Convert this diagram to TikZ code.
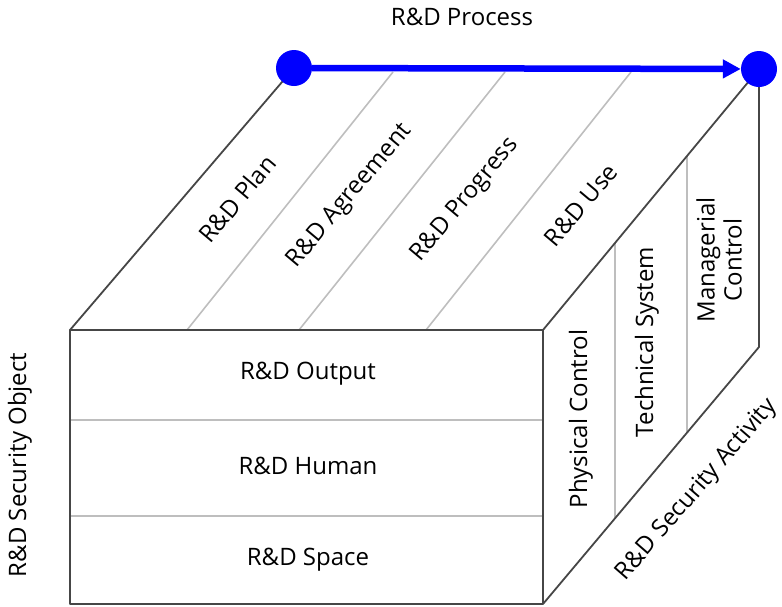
\documentclass[tikz,border=0pt]{standalone}
\usepackage{fontspec}
\setmainfont{Open Sans}
\usetikzlibrary{arrows.meta,calc}
\definecolor{edgegray}{RGB}{70,70,70}
\definecolor{linegray}{RGB}{190,190,190}
\definecolor{processblue}{RGB}{0,0,255}
\tikzset{
    % Cube outline
    edge/.style={
        draw=edgegray,
        line width=1.8pt,
        line join=round
    },
    % Dividers between the cells
    divider/.style={
        draw=linegray,
        line width=1.6pt
    },
    % Labels on the faces
    facelabel/.style={
        font=\fontsize{24}{27}\selectfont,
        align=center,
        inner sep=0pt
    },
    % Process axis
    dot/.style={
        circle,
        fill=processblue,
        minimum size=36pt,
        inner sep=0pt
    },
    processarrow/.style={
        -{Triangle[length=18pt,width=18pt]},
        line width=6.5pt,
        draw=processblue
    }
}

\begin{document}
\begin{tikzpicture}[x=1pt,y=1pt]

    \useasboundingbox (0,0) rectangle (782,-606);

    % Corners of the cube
    \coordinate (ftl) at (70,-330);
    \coordinate (ftr) at (543,-330);
    \coordinate (fbl) at (70,-604);
    \coordinate (fbr) at (543,-604);
    \coordinate (btl) at (294,-68);
    \coordinate (btr) at (759,-69);
    \coordinate (bbr) at (759,-347);

    % Front face: security objects
    \draw[divider] (70,-420) -- (543,-420);
    \draw[divider] (70,-516) -- (543,-516);

    % Top face: process stages
    \draw[divider] (187,-330) -- (393,-72);
    \draw[divider] (299,-330) -- (505,-72);
    \draw[divider] (426,-330) -- (631,-72);

    % Right face: security activities
    \draw[divider] ($(ftr)!1/3!(btr)$) -- ($(fbr)!1/3!(bbr)$);
    \draw[divider] ($(ftr)!2/3!(btr)$) -- ($(fbr)!2/3!(bbr)$);

    % Outline
    \draw[edge] (ftl) rectangle (fbr);
    \draw[edge] (ftl) -- (btl);
    \draw[edge] (ftr) -- (btr) -- (bbr) -- (fbr);

    % Labels
    \node[facelabel] (output) at (308,-374) {R\&D Output};
    \node[facelabel] (human) at (308,-466) {R\&D Human};
    \node[facelabel] (space) at (308,-560) {R\&D Space};

    \node[facelabel, rotate=50] (plan) at (237,-199) {R\&D Plan};
    \node[facelabel, rotate=50] (agreement) at (350,-196) {R\&D Agreement};
    \node[facelabel, rotate=50] (progress) at (465,-200) {R\&D Progress};
    \node[facelabel, rotate=50] (use) at (581,-205) {R\&D Use};

    \node[facelabel, rotate=90] (physical) at (581,-419) {Physical Control};
    \node[facelabel, rotate=90] (technical) at (647,-342) {Technical System};
    \node[facelabel, rotate=90] (managerial) at (719,-260) {Managerial\\Control};

    % Axis titles
    \node[facelabel] (processtitle) at (462,-17) {R\&D Process};
    \node[facelabel, rotate=90] (objecttitle) at (20,-465) {R\&D Security Object};
    \node[facelabel, rotate=49] (activitytitle) at (697,-490) {R\&D Security Activity};

    % Process axis
    \node[dot] (start) at (btl) {};
    \node[dot] (finish) at (btr) {};
    \draw[processarrow] (start) -- (finish);

\end{tikzpicture}
\end{document}
